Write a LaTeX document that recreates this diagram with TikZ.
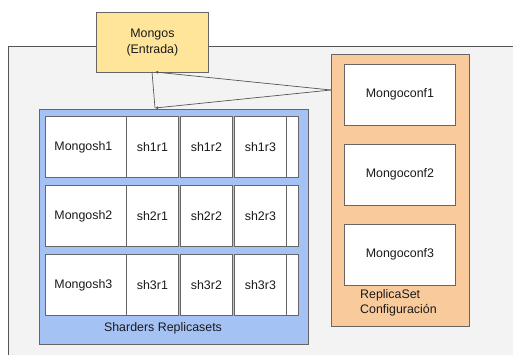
\documentclass[tikz,border=0pt]{standalone}
\usepackage{fontspec}
\setmainfont{Liberation Sans}
\usetikzlibrary{arrows.meta}
\definecolor{bgfill}{HTML}{F3F3F3}
\definecolor{edge}{HTML}{666666}
\definecolor{dark}{HTML}{555555}
\definecolor{yel}{HTML}{FFE599}
\definecolor{blu}{HTML}{A4C2F4}
\definecolor{ora}{HTML}{F9CB9C}
\definecolor{txt}{HTML}{1A1A1A}
\tikzset{
  box/.style={draw=edge, line width=0.8pt, inner sep=0pt, anchor=north west, text=txt,
    font=\fontsize{12.4}{16}\selectfont},
  cell/.style={box, fill=white},
  conn/.style={draw=dark, line width=0.7pt, -{Latex[length=3pt,width=3pt]}},
}
\newcommand{\cellbox}[5]{% name, x1, x2, y1, text
  \pgfmathsetmacro{\ww}{#3-#2}
  \node[cell, minimum width=\ww pt, minimum height=61pt] (#1) at (#2,#4) {#5};
}
\begin{document}
\begin{tikzpicture}[x=1pt,y=-1pt]
\useasboundingbox (0,0) rectangle (513,354);
\fill[white] (0,0) rectangle (513,354);
% background panel
\fill[bgfill] (8,46) rectangle (520,360);
\draw[draw=dark, line width=1pt] (8,360) -- (8,46) -- (520,46);
% Mongos
\node[box, fill=yel, minimum width=112pt, minimum height=60pt, align=center] (mongos) at (96,12) {Mongos\\(Entrada)};
% blue shard container
\node[box, fill=blu, minimum width=269pt, minimum height=235pt] (shards) at (39,109) {};
\node[txt, font=\fontsize{12.4}{16}\selectfont] (shlabel) at (163,328) {Sharders Replicasets};
% rows
\foreach \r/\y in {1/116, 2/185, 3/254}{
  \cellbox{m\r}{45}{126}{\y}{\hspace*{-5pt}Mongosh\r}
  \cellbox{a\r}{126}{178}{\y}{sh\r r1}
  \cellbox{b\r}{180}{232}{\y}{sh\r r2}
  \cellbox{c\r}{234}{286}{\y}{sh\r r3}
  \cellbox{d\r}{286}{298}{\y}{}
}
% config replica set
\node[box, fill=ora, minimum width=138pt, minimum height=272pt] (cfg) at (331,54) {};
\foreach \i/\y in {1/64, 2/144, 3/224}{
  \node[cell, minimum width=111pt, minimum height=60.5pt] (conf\i) at (344,\y) {Mongoconf\i};
}
\node[txt, font=\fontsize{12.4}{15}\selectfont, align=left, anchor=north west, inner sep=0pt] (cfglabel) at (360,289) {ReplicaSet\\Configuración};
% connectors
\coordinate (src) at (331,90);
\coordinate (mtip) at (155,72);
\coordinate (btip) at (155,108);
\coordinate (mbot) at (152,72);
\draw[conn] (src) -- (mtip);
\draw[conn] (src) -- (btip);
\draw[draw=dark, line width=0.7pt] (mbot) -- (btip);
\end{tikzpicture}
\end{document}
